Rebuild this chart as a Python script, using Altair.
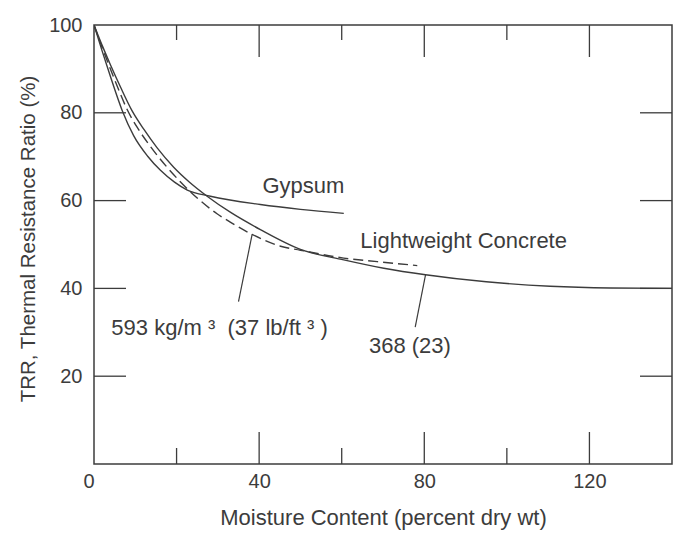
import altair as alt
import pandas as pd

# ---- data ----
concrete368_x = [0, 2, 4, 6.5, 9.2, 12.1, 15.3, 19.3, 23, 27.4, 33.1, 40.3, 50, 60.5, 70.2, 80.3, 95, 110.5, 125, 140]
concrete368_y = [100, 95.3, 90.9, 85.7, 80.5, 76.2, 72.0, 67.6, 64.3, 61.0, 57.3, 53.4, 48.9, 46.5, 44.6, 43.1, 41.5, 40.5, 40.1, 40]

concrete593_x = [0, 2, 4, 6, 8, 10.8, 13.7, 17.7, 20.9, 25, 29.8, 33, 38.3, 45.2, 50, 60.5, 68.6, 78.3]
concrete593_y = [100, 94.8, 89.9, 85.2, 80.8, 76.2, 72.3, 67.6, 64.3, 60.6, 57.0, 55.1, 52.3, 49.6, 48.7, 46.9, 46.1, 45.2]

gypsum_x = [0, 2, 4, 6.8, 9.6, 13, 16.1, 19.5, 22.6, 28.2, 40.3, 50, 60.5]
gypsum_y = [100, 94, 88.2, 80.6, 74.8, 70.1, 66.9, 64.2, 62.4, 61, 59.1, 58, 57.1]

leader_x = [38.3, 80.3]
leader_y = [52.3, 43.1]
leader_x2 = [35.0, 77.8]
leader_y2 = [37.0, 31.2]

label_text = ["Gypsum", "Lightweight Concrete",
              "593 kg/m\u00a0\u00b3\u00a0\u00a0(37 lb/ft\u00a0\u00b3\u00a0)", "368 (23)"]
label_x = [40.8, 64.5, 4.2, 66.6]
label_y = [61.7, 49.1, 29.4, 25.2]

x_tick_labels = [0, 40, 80, 120]
y_tick_labels = [20, 40, 60, 80, 100]
long_ticks_x = [40, 80, 120]
short_ticks_x = [20, 60, 100]
side_ticks_y = [20, 40, 60, 80]

W, H = 578, 439
INK = "#3c3c3c"
FONT = "Liberation Sans"

xs = alt.Scale(domain=[0, 140], nice=False, zero=False)
ys = alt.Scale(domain=[0, 100], nice=False, zero=False)


def curve(xv, yv, dash=None):
    df = pd.DataFrame({"x": xv, "y": yv, "o": list(range(len(xv)))})
    kw = dict(color=INK, strokeWidth=1.4, interpolate="monotone", clip=True)
    if dash:
        kw["strokeDash"] = dash
    return alt.Chart(df).mark_line(**kw).encode(
        x=alt.X("x:Q", scale=xs), y=alt.Y("y:Q", scale=ys), order="o:Q"
    )


base_axes = alt.Chart(pd.DataFrame({"x": [0], "y": [0]})).mark_point(opacity=0).encode(
    x=alt.X(
        "x:Q",
        scale=xs,
        title="Moisture Content (percent dry wt)",
        axis=alt.Axis(
            values=x_tick_labels,
            ticks=False,
            tickSize=0,
            domain=False,
            grid=False,
            labelPadding=7,
            labelExpr="datum.value === 0 ? '0\u00a0' : datum.label",
            labelAlign={"condition": {"test": "datum.value === 0", "value": "right"}, "value": "center"},
            titleY=60,
            titleBaseline="alphabetic",
            titleFontSize=22,
        ),
    ),
    y=alt.Y(
        "y:Q",
        scale=ys,
        title="TRR, Thermal Resistance Ratio (%)",
        axis=alt.Axis(
            values=y_tick_labels,
            ticks=False,
            tickSize=0,
            domain=False,
            grid=False,
            labelPadding=12,
            labelBaseline="middle",
            titleX=-60,
            titleY=H / 2 - 6,
            titleAngle=270,
            titleBaseline="alphabetic",
            titleAlign="center",
            titleFontSize=20.5,
        ),
    ),
)

c368 = curve(concrete368_x, concrete368_y)
c593 = curve(concrete593_x, concrete593_y, dash=[10, 5])
gyp = curve(gypsum_x, gypsum_y)

leaders = alt.Chart(pd.DataFrame({"x": leader_x, "y": leader_y, "x2": leader_x2, "y2": leader_y2})).mark_rule(
    color=INK, strokeWidth=1.2
).encode(x=alt.X("x:Q", scale=xs), y=alt.Y("y:Q", scale=ys), x2="x2:Q", y2="y2:Q")

labels = alt.Chart(pd.DataFrame({"t": label_text, "x": label_x, "y": label_y})).mark_text(
    align="left", baseline="alphabetic", font=FONT, fontSize=22, color=INK
).encode(x=alt.X("x:Q", scale=xs), y=alt.Y("y:Q", scale=ys), text="t:N")

tick_style = dict(color=INK, strokeWidth=1.3)
top_long = alt.Chart(pd.DataFrame({"x": long_ticks_x})).mark_rule(**tick_style).encode(
    x=alt.X("x:Q", scale=xs), y=alt.value(0), y2=alt.value(32))
top_short = alt.Chart(pd.DataFrame({"x": short_ticks_x})).mark_rule(**tick_style).encode(
    x=alt.X("x:Q", scale=xs), y=alt.value(0), y2=alt.value(15))
bot_long = alt.Chart(pd.DataFrame({"x": long_ticks_x})).mark_rule(**tick_style).encode(
    x=alt.X("x:Q", scale=xs), y=alt.value(H), y2=alt.value(H - 32))
bot_short = alt.Chart(pd.DataFrame({"x": short_ticks_x})).mark_rule(**tick_style).encode(
    x=alt.X("x:Q", scale=xs), y=alt.value(H), y2=alt.value(H - 16))
left_t = alt.Chart(pd.DataFrame({"y": side_ticks_y})).mark_rule(**tick_style).encode(
    y=alt.Y("y:Q", scale=ys), x=alt.value(0), x2=alt.value(32))
right_t = alt.Chart(pd.DataFrame({"y": side_ticks_y})).mark_rule(**tick_style).encode(
    y=alt.Y("y:Q", scale=ys), x=alt.value(W), x2=alt.value(W - 32))

chart = alt.layer(
    base_axes, top_long, top_short, bot_long, bot_short, left_t, right_t,
    gyp, c593, c368, leaders, labels
).properties(
    width=W, height=H,
    background="white",
    autosize=alt.AutoSizeParams(type="none"),
    padding={"left": 86, "top": 17, "right": 12, "bottom": 72},
).configure_view(
    stroke=INK, strokeWidth=1.5
).configure_axis(
    labelFont=FONT, labelFontSize=20, labelColor=INK,
    titleFont=FONT, titleColor=INK, titleFontWeight="normal",
)

chart.save("out.html", embed_options={"renderer": "svg", "actions": False})
